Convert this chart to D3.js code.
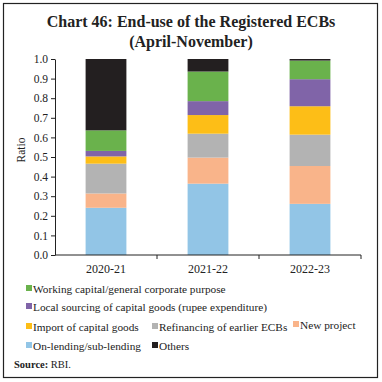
<!DOCTYPE html>
<html><head><meta charset="utf-8">
<script src="https://cdn.jsdelivr.net/npm/d3@7"></script>
<style>body{margin:0;background:#fff}svg{display:block}</style>
</head><body>
<script>
const categories = ["2020-21", "2021-22", "2022-23"];
const seriesNames = ["On-lending/sub-lending", "New project", "Refinancing of earlier ECBs", "Import of capital goods", "Local sourcing of capital goods (rupee expenditure)", "Working capital/general corporate purpose", "Others"];
const onLending = [0.241, 0.364, 0.261];
const newProject = [0.073, 0.133, 0.193];
const refinancing = [0.152, 0.122, 0.160];
const importCap = [0.037, 0.095, 0.145];
const localSourcing = [0.028, 0.071, 0.138];
const workingCap = [0.105, 0.151, 0.095];
const others = [0.364, 0.064, 0.008];
const yTicks = [0, 0.1, 0.2, 0.3, 0.4, 0.5, 0.6, 0.7, 0.8, 0.9, 1.0];
const colors = ["#92C5E6", "#F9B48A", "#B3B3B3", "#FDBE17", "#8064A8", "#6AB24C", "#231F20"];

const W = 382, H = 382;
const svg = d3.select("body").append("svg").attr("width", W).attr("height", H);
const font = "'Liberation Serif', 'DejaVu Serif', serif";

svg.append("rect").attr("x", 3.5).attr("y", 3.5).attr("width", 374).attr("height", 374)
  .attr("fill", "none").attr("stroke", "#222").attr("stroke-width", 1.2);

svg.append("text").attr("x", 191).attr("y", 27).attr("text-anchor", "middle")
  .attr("font-family", font).attr("font-weight", "bold").attr("font-size", 16).attr("fill", "#222")
  .text("Chart 46: End-use of the Registered ECBs");
svg.append("text").attr("x", 191).attr("y", 47).attr("text-anchor", "middle")
  .attr("font-family", font).attr("font-weight", "bold").attr("font-size", 16).attr("fill", "#222")
  .text("(April-November)");

const rows = categories.map((c, i) => {
  const r = { cat: c };
  [onLending, newProject, refinancing, importCap, localSourcing, workingCap, others]
    .forEach((arr, k) => r[seriesNames[k]] = arr[i]);
  return r;
});
const stacked = d3.stack().keys(seriesNames)(rows);

const x = d3.scaleBand().domain(categories).range([55, 361]).paddingInner(0.6).paddingOuter(0.3);
const y = d3.scaleLinear().domain([0, 1]).range([255, 59]);

const g = svg.append("g");
stacked.forEach((s, k) => {
  g.selectAll(null).data(s).enter().append("rect")
    .attr("x", d => x(d.data.cat))
    .attr("width", x.bandwidth())
    .attr("y", d => y(d[1]))
    .attr("height", d => y(d[0]) - y(d[1]))
    .attr("fill", colors[k]);
});

const yAxis = svg.append("g").attr("transform", "translate(55,0)")
  .call(d3.axisLeft(y).tickValues(yTicks).tickFormat(d3.format(".1f")).tickSize(4).tickSizeOuter(0));
yAxis.selectAll("text").attr("font-family", font).attr("font-size", 11.5).attr("fill", "#222");
yAxis.selectAll("line,path").attr("stroke", "#222");

const xb = d3.scaleLinear().domain([0, 3]).range([55, 361]);
const xAxis = svg.append("g").attr("transform", "translate(0,255)");
xAxis.append("line").attr("x1", 55).attr("x2", 361).attr("y1", 0).attr("y2", 0).attr("stroke", "#222");
xAxis.selectAll(null).data([1, 2, 3]).enter().append("line")
  .attr("x1", d => xb(d)).attr("x2", d => xb(d)).attr("y1", 0).attr("y2", 4).attr("stroke", "#222");
xAxis.selectAll(null).data(categories).enter().append("text")
  .attr("x", d => x(d) + x.bandwidth() / 2).attr("y", 18).attr("text-anchor", "middle")
  .attr("font-family", font).attr("font-size", 12).attr("fill", "#222").text(d => d);

svg.append("text").attr("transform", "translate(25,150) rotate(-90)").attr("text-anchor", "middle")
  .attr("font-family", font).attr("font-size", 11.5).attr("fill", "#222").text("Ratio");

const legendItems = [
  { k: 5, x: 26, y: 289 },
  { k: 4, x: 26, y: 307 },
  { k: 3, x: 26, y: 327 }, { k: 2, x: 152, y: 327 }, { k: 1, x: 293, y: 325 },
  { k: 0, x: 26, y: 346 }, { k: 6, x: 152, y: 346 }
];
const leg = svg.append("g");
legendItems.forEach(it => {
  leg.append("rect").attr("x", it.x).attr("y", it.y - 4).attr("width", 6).attr("height", 6).attr("fill", colors[it.k]);
  leg.append("text").attr("x", it.x + 7).attr("y", it.y + 3.5)
    .attr("font-family", font).attr("font-size", 11.3).attr("fill", "#222").text(seriesNames[it.k]);
});

const src = svg.append("text").attr("x", 14).attr("y", 368).attr("font-family", font).attr("font-size", 10.5).attr("fill", "#222");
src.append("tspan").attr("font-weight", "bold").text("Source: ");
src.append("tspan").text("RBI.");
</script>
</body></html>
